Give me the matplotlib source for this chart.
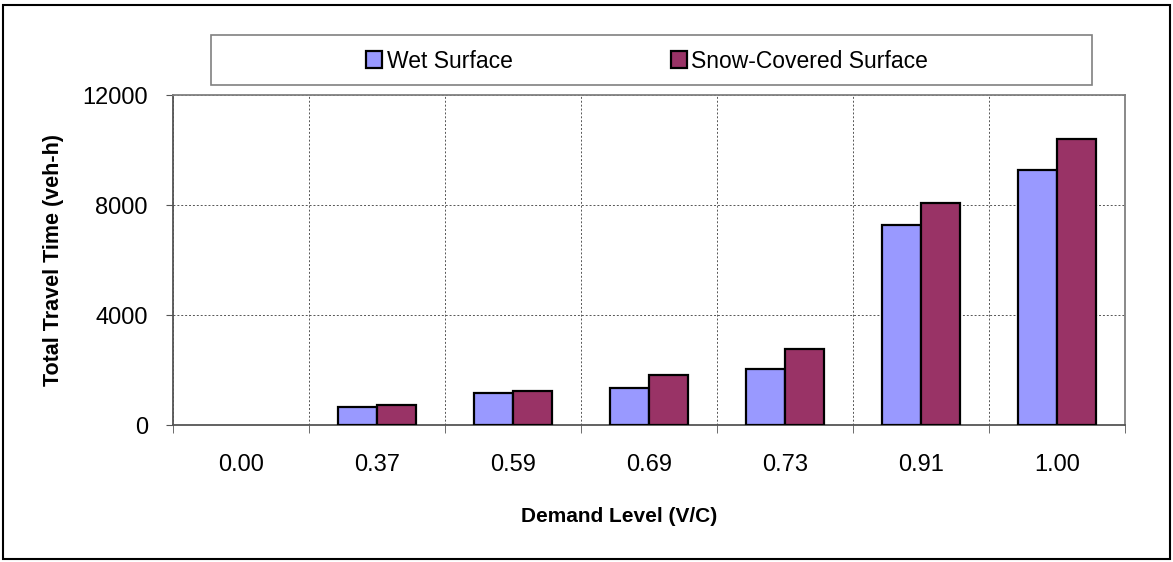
import numpy as np
import matplotlib.pyplot as plt
from matplotlib.patches import Rectangle, Patch

plt.rcParams["font.family"] = ["Liberation Sans", "DejaVu Sans"]

# data
demand = ["0.00", "0.37", "0.59", "0.69", "0.73", "0.91", "1.00"]
wet = [0, 655, 1160, 1350, 2020, 7270, 9270]
snow = [0, 730, 1240, 1820, 2760, 8070, 10400]

wet_color = "#9999ff"
snow_color = "#993366"

fig = plt.figure(figsize=(11.73, 5.62), dpi=100)
ax = fig.add_axes([173 / 1173, 1 - 425 / 562, 952 / 1173, 330 / 562])

x = np.arange(len(demand))
w = 0.285
# no outline on empty (zero) bars
lw_wet = [1.6 if v > 0 else 0 for v in wet]
lw_snow = [1.6 if v > 0 else 0 for v in snow]
ax.bar(x - w / 2, wet, w, color=wet_color, edgecolor="black", linewidth=lw_wet, zorder=3)
ax.bar(x + w / 2, snow, w, color=snow_color, edgecolor="black", linewidth=lw_snow, zorder=3)

ax.set_xlim(-0.5, len(demand) - 0.5)
ax.set_ylim(0, 12000)
ax.set_yticks([0, 4000, 8000, 12000])
ax.set_xticks(x)
ax.set_xticklabels(demand)
ax.set_xticks(np.arange(-0.5, len(demand)), minor=True)
ax.tick_params(axis="x", which="major", length=0, pad=21, labelsize=17)
ax.tick_params(axis="x", which="minor", length=6, color="#555555")
ax.tick_params(axis="y", length=5, labelsize=17, pad=13, color="#555555")

ax.grid(True, axis="y", linestyle=(0, (2, 2)), color="#555555", linewidth=0.7, zorder=0)
ax.grid(True, axis="x", which="minor", linestyle=(0, (2, 2)), color="#555555",
        linewidth=0.7, zorder=0)
for s in ax.spines.values():
    s.set_color("#808080")
    s.set_linewidth(1.3)
ax.spines["left"].set_color("#555555")
ax.spines["bottom"].set_color("#555555")

ax.set_xlabel("Demand Level (V/C)", fontsize=15, fontweight="bold", va="center")
ax.xaxis.set_label_coords((619 - 173) / 952, -(517 - 425) / 330)
ax.set_ylabel("Total Travel Time (veh-h)", fontsize=15.5, fontweight="bold", va="center")
ax.yaxis.set_label_coords((54 - 173) / 952, 0.5)

# legend box
fig.patches.append(Rectangle((211 / 1173, 1 - 85 / 562), 881 / 1173, 50 / 562,
                             transform=fig.transFigure, facecolor="white",
                             edgecolor="#808080", linewidth=1.2))
handles = [Patch(facecolor=wet_color, edgecolor="black", linewidth=1.6, label="Wet Surface"),
           Patch(facecolor=snow_color, edgecolor="black", linewidth=1.6,
                 label="Snow-Covered Surface")]
fig.legend(handles=handles, loc="center left", bbox_to_anchor=(366 / 1173, 1 - 61 / 562),
           ncol=2, frameon=False, fontsize=16.5, handlelength=0.7, handleheight=0.7,
           handletextpad=0.2, columnspacing=6.9, borderpad=0, borderaxespad=0)

# outer border
fig.patches.append(Rectangle((3 / 1173, 3 / 562), 1167 / 1173, 554 / 562,
                             transform=fig.transFigure, fill=False,
                             edgecolor="black", linewidth=1.5))

fig.savefig("out.png", dpi=100)
